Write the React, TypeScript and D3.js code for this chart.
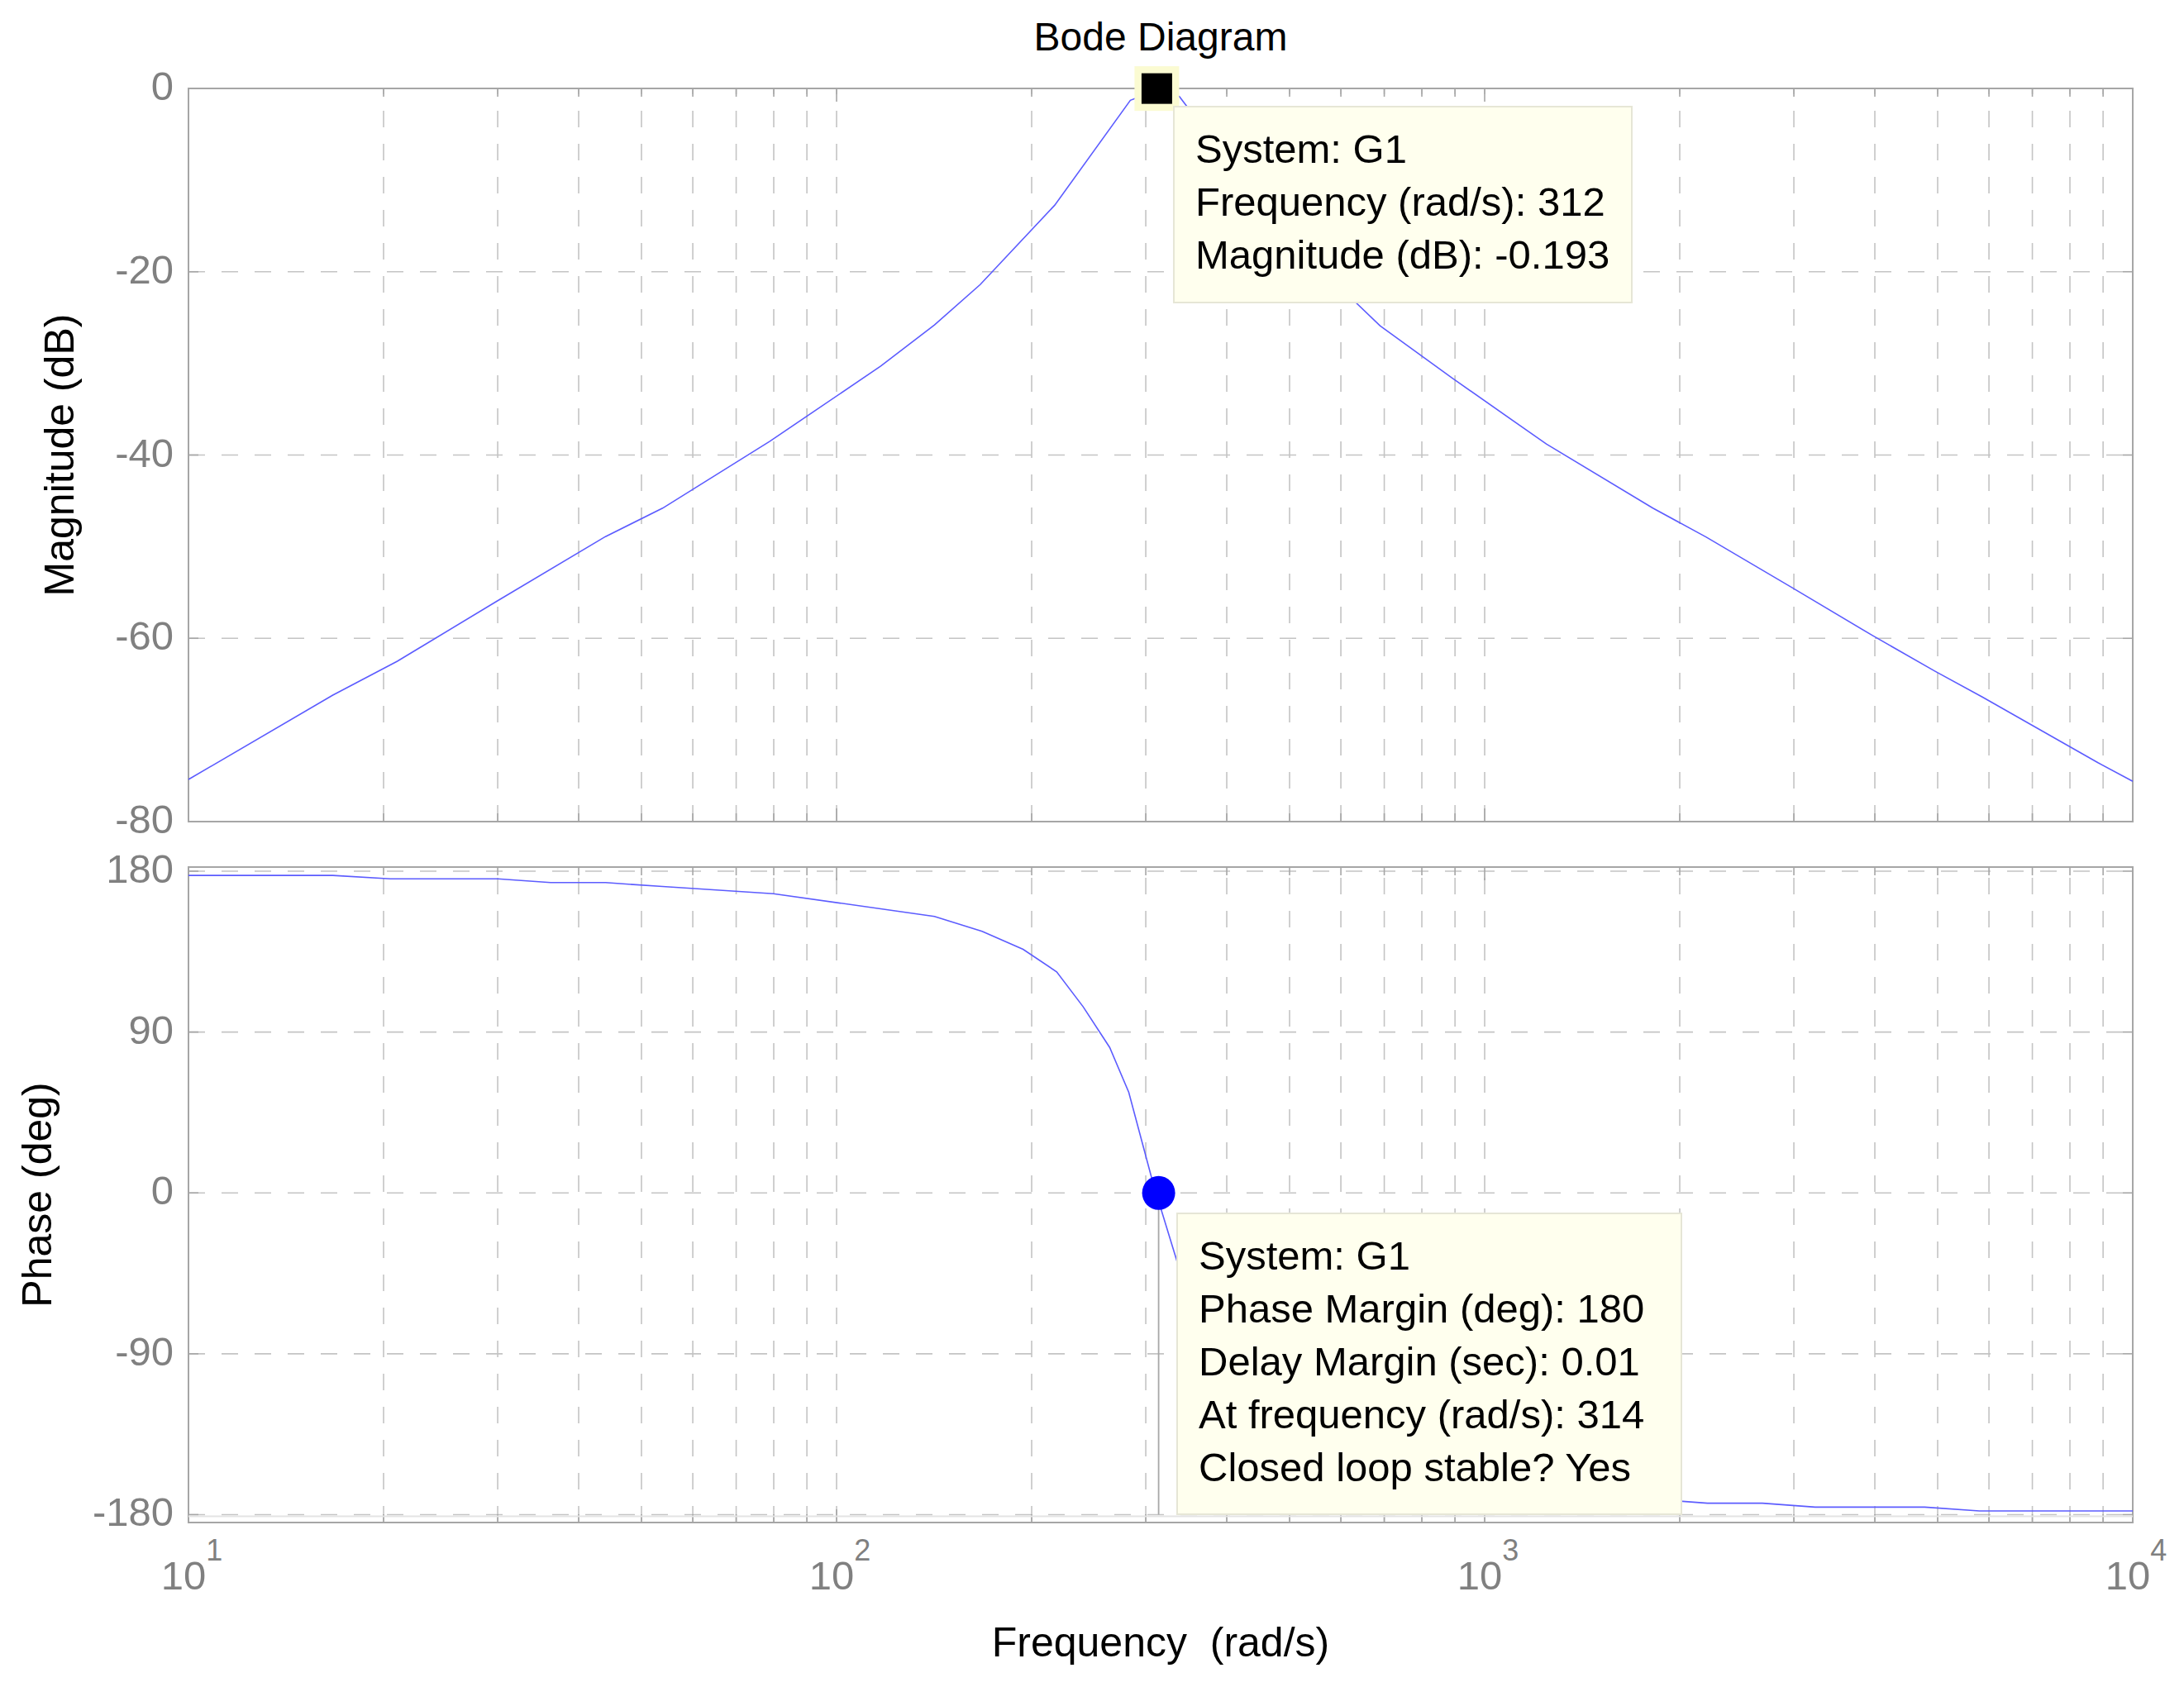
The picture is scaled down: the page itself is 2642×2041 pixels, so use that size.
import React from 'react';
import * as d3 from 'd3';

const W = 2642;
const H = 2041;
const FONT = '"Liberation Sans", Arial, Helvetica, sans-serif';

// magnitude curve (rad/s, dB)
const magFreq = [10, 16.7, 21, 30, 44, 53.9, 78.9, 117, 141.6, 166.6, 217, 284, 312, 338, 454, 592, 689.6, 891, 1245, 1818, 2198, 2969, 3968, 4955, 5860, 8850, 10000];
const magDb = [-75.4, -66.2, -62.5, -55.9, -48.9, -45.8, -38.5, -30.3, -25.8, -21.4, -12.75, -1.29, -0.193, -0.87, -12.8, -21.4, -25.9, -31.6, -38.8, -45.8, -48.96, -54.4, -59.7, -63.6, -66.4, -73.6, -75.6];

// phase curve (rad/s, deg)
const phaseFreq = [10, 16.7, 20.5, 30, 36.2, 44, 53.9, 79.9, 141.6, 167.7, 194, 218.6, 240.2, 263.9, 282.4, 307.5, 335.4, 349, 374, 410, 451, 508, 588, 696, 1234, 1829, 2207, 2682, 3236, 4775, 5800, 10000];
const phaseDeg = [177.6, 177.6, 175.7, 175.7, 173.6, 173.6, 171.4, 167.4, 154.7, 146.3, 136.3, 123.7, 104.1, 81.4, 56.3, 6.1, -38.6, -56.3, -81.4, -104.1, -123.7, -136.3, -146.3, -154.7, -167.4, -171.4, -173.6, -173.6, -175.8, -175.8, -177.9, -177.9];

const magTicks = [0, -20, -40, -60, -80];
const phaseTicks = [180, 90, 0, -90, -180];
const decadeExps = [1, 2, 3, 4];

const peakFreq = 312;
const peakDb = -0.193;
const magTipLines = ['System: G1', 'Frequency (rad/s): 312', 'Magnitude (dB): -0.193'];

const pmFreq = 314;
const pmDeg = 0;
const pmTipLines = ['System: G1', 'Phase Margin (deg): 180', 'Delay Margin (sec): 0.01', 'At frequency (rad/s): 314', 'Closed loop stable? Yes'];

const left = 228;
const right = 2580;
const x = d3.scaleLog().domain([10, 10000]).range([left, right]);
const yMag = d3.scaleLinear().domain([-80, 0]).range([994, 107]);
const yPhase = d3.scaleLinear().domain([-184.4, 182.3]).range([1842, 1049]);

// 2..9 in every decade, plus the inner decades
const xGrid: number[] = [];
[10, 100, 1000].forEach(d => {
  for (let k = 1; k < 10; k++) {
    const v = k * d;
    if (v > 10) xGrid.push(v);
  }
});

const GRID = '#c4c4c4';
const BOX = '#a6a6a6';
const LABEL = '#808080';

function Panel({ y, ticks }: { y: d3.ScaleLinear<number, number>, ticks: number[] }) {
  const [bottom, top] = y.range();
  return (
    <g>
      {xGrid.map(v => (
        <path key={'v' + v} d={`M${x(v)},${bottom}V${top}`} stroke={GRID} strokeWidth={1.6} strokeDasharray="20 20" fill="none" />
      ))}
      {ticks.filter(t => y(t) > top + 1 && y(t) < bottom - 1).map(t => (
        <path key={'h' + t} d={`M${left},${y(t)}H${right}`} stroke={GRID} strokeWidth={1.6} strokeDasharray="20 20" fill="none" />
      ))}
      {xGrid.map(v => {
        const len = v === 100 || v === 1000 ? 16 : 10;
        return (
          <g key={'t' + v}>
            <line x1={x(v)} x2={x(v)} y1={top} y2={top + len} stroke={BOX} strokeWidth={1.6} />
            <line x1={x(v)} x2={x(v)} y1={bottom} y2={bottom - len} stroke={BOX} strokeWidth={1.6} />
          </g>
        );
      })}
      {ticks.map(t => (
        <g key={'yt' + t}>
          <line x1={left} x2={left + 12} y1={y(t)} y2={y(t)} stroke={BOX} strokeWidth={1.6} />
          <line x1={right} x2={right - 12} y1={y(t)} y2={y(t)} stroke={BOX} strokeWidth={1.6} />
          <text x={210} y={y(t) + 14} textAnchor="end" fontSize={49} fill={LABEL} fontFamily={FONT}>{t}</text>
        </g>
      ))}
      <rect x={left} y={top} width={right - left} height={bottom - top} fill="none" stroke={BOX} strokeWidth={2} />
    </g>
  );
}

function Tip({ x0, y0, x1, y1, lines }: { x0: number, y0: number, x1: number, y1: number, lines: string[] }) {
  return (
    <g>
      <rect x={x0} y={y0} width={x1 - x0} height={y1 - y0} fill="#ffffee" stroke="#e6e6d6" strokeWidth={2} />
      {lines.map((s, i) => (
        <text key={i} x={x0 + 26} y={y0 + 68 + i * 64} fontSize={49} fill="#000" fontFamily={FONT}>{s}</text>
      ))}
    </g>
  );
}

export default function App() {
  const magLine = d3.line<number>().x((_, i) => x(magFreq[i])).y(d => yMag(d));
  const phaseLine = d3.line<number>().x((_, i) => x(phaseFreq[i])).y(d => yPhase(d));
  const px = x(peakFreq);
  const py = yMag(peakDb) - 2;
  const cx = x(pmFreq);
  const cy = yPhase(pmDeg);

  return (
    <div style={{ position: 'fixed', left: 0, top: 0, background: '#fff' }}>
      <svg width={W} height={H} viewBox={`0 0 ${W} ${H}`} style={{ display: 'block' }}>
        <rect width={W} height={H} fill="#fff" />
        <text x={(left + right) / 2} y={61} textAnchor="middle" fontSize={48} fontFamily={FONT} fill="#000">Bode Diagram</text>

        <Panel y={yMag} ticks={magTicks} />
        <Panel y={yPhase} ticks={phaseTicks} />

        <line x1={left} x2={right} y1={yPhase(-180) + 2} y2={yPhase(-180) + 2} stroke="#e4e4e4" strokeWidth={2} />

        <path d={magLine(magDb) || ''} fill="none" stroke="#5c5cff" strokeWidth={1.6} />
        <path d={phaseLine(phaseDeg) || ''} fill="none" stroke="#5c5cff" strokeWidth={1.6} />

        {/* magnitude data tip */}
        <rect x={px - 27} y={py - 27} width={54} height={54} fill="#fbfbd2" />
        <rect x={px - 18.5} y={py - 18.5} width={37} height={37} fill="#000" />
        <Tip x0={1420} y0={129} x1={1974} y1={366} lines={magTipLines} />

        {/* phase margin marker */}
        <line x1={cx} x2={cx} y1={yPhase(-180)} y2={cy} stroke="#a8a8a8" strokeWidth={1.8} />
        <ellipse cx={cx} cy={cy} rx={20} ry={20.5} fill="#0000ff" />
        <Tip x0={1424} y0={1468} x1={2034} y1={1832} lines={pmTipLines} />

        {decadeExps.map(e => (
          <text key={e} x={x(10 ** e) + 4} y={1923} textAnchor="middle" fontSize={49} fill={LABEL} fontFamily={FONT}>
            10<tspan dy={-35} fontSize={36}>{e}</tspan>
          </text>
        ))}

        <text x={(left + right) / 2} y={2004} textAnchor="middle" fontSize={50} fontFamily={FONT} fill="#000" style={{ whiteSpace: 'pre' }}>Frequency  (rad/s)</text>
        <text transform={`translate(89,${(107 + 994) / 2}) rotate(-90)`} textAnchor="middle" fontSize={50} fontFamily={FONT} fill="#000">Magnitude (dB)</text>
        <text transform={`translate(62,${(1049 + 1842) / 2}) rotate(-90)`} textAnchor="middle" fontSize={50} fontFamily={FONT} fill="#000">Phase (deg)</text>
      </svg>
    </div>
  );
}
